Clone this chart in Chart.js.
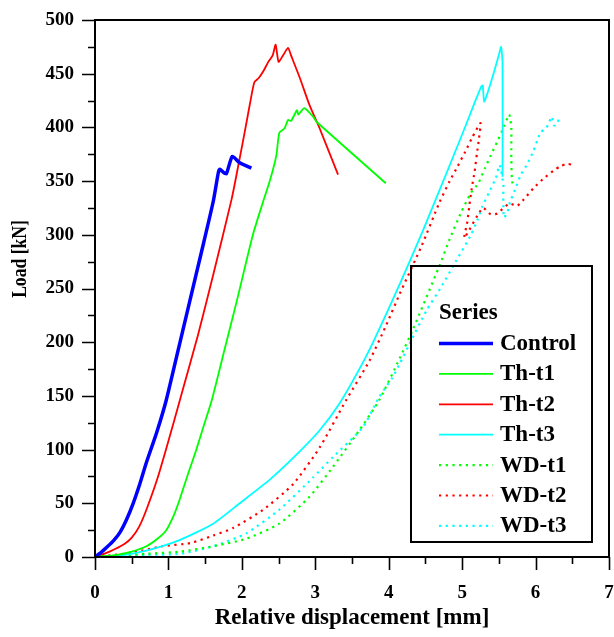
<!DOCTYPE html>
<html>
<head>
<meta charset="utf-8">
<script src="https://cdn.jsdelivr.net/npm/chart.js@4/dist/chart.umd.min.js"></script>
<style>
  html, body { margin: 0; padding: 0; background: #fff; }
  #wrap { width: 614px; height: 637px; }
</style>
</head>
<body>
<div id="wrap"><canvas id="chart" width="614" height="637"></canvas></div>
<script>
// displacement [mm] / load [kN]
var controlX = [0, 0.08, 0.16, 0.25, 0.34, 0.43, 0.52, 0.61, 0.70, 0.84, 0.97, 1.13, 1.29, 1.45, 1.61, 1.68, 1.70, 1.75, 1.79, 1.87, 1.97, 2.13];
var controlY = [0, 4, 9, 15, 23, 35, 50, 68, 88, 116, 146, 192, 238, 284, 331, 358, 361, 358, 357, 373, 367, 362];

var th1X = [0, 0.3, 0.5, 0.7, 0.85, 0.97, 1.08, 1.16, 1.27, 1.38, 1.48, 1.59, 1.76, 1.93, 2.15, 2.29, 2.38, 2.47, 2.51, 2.58, 2.63, 2.67, 2.75, 2.77, 2.85, 2.97, 3.02, 3.96];
var th1Y = [0, 2, 5, 10, 17, 25, 40, 55, 78, 100, 122, 146, 192, 238, 300, 331, 350, 374, 395, 399, 407, 406, 416, 412, 418, 410, 405, 348];

var th2X = [0, 0.2, 0.4, 0.5, 0.6, 0.7, 0.85, 1.0, 1.18, 1.4, 1.6, 1.86, 1.97, 2.04, 2.11, 2.17, 2.23, 2.29, 2.36, 2.42, 2.46, 2.50, 2.56, 2.63, 2.67, 2.79, 2.92, 3.06, 3.31];
var th2Y = [0, 5, 12, 18, 28, 44, 73, 108, 152, 206, 260, 333, 371, 396, 422, 442, 446, 452, 461, 467, 477, 461, 467, 474, 467, 446, 421, 399, 356];

var th3X = [0, 0.3, 0.7, 1.16, 1.61, 1.97, 2.38, 2.74, 3.06, 3.33, 3.56, 3.78, 4.15, 4.46, 4.85, 5.05, 5.17, 5.26, 5.28, 5.30, 5.35, 5.44, 5.51, 5.53, 5.55, 5.55];
var th3Y = [0, 1, 6, 16, 31, 50, 72, 95, 118, 143, 170, 199, 254, 303, 368, 402, 423, 438, 439, 424, 433, 453, 470, 475, 461, 354];

var wd1X = [0, 0.7, 1.16, 1.61, 2.06, 2.51, 2.92, 3.24, 3.6, 3.87, 4.15, 4.33, 4.69, 4.83, 4.98, 5.12, 5.22, 5.31, 5.39, 5.48, 5.57, 5.64, 5.66, 5.67, 5.67, 5.68, 5.71];
var wd1Y = [0, 3, 5, 10, 17, 31, 56, 84, 118, 146, 185, 212, 271, 296, 320, 339, 348, 362, 374, 387, 401, 412, 406, 399, 370, 350, 344];

var wd2X = [0, 0.5, 0.92, 1.3, 1.61, 1.88, 2.29, 2.70, 3.06, 3.42, 3.74, 3.96, 4.15, 4.45, 4.69, 4.83, 4.94, 5.04, 5.14, 5.25, 5.23, 5.20, 5.17, 5.13, 5.10, 5.07, 5.03, 5.28, 5.39, 5.48, 5.64, 5.75, 5.84, 5.98, 6.12, 6.25, 6.34, 6.43, 6.52];
var wd2Y = [0, 4, 10, 13, 20, 27, 44, 68, 102, 146, 183, 215, 245, 290, 330, 350, 364, 377, 391, 404, 390, 375, 359, 343, 328, 312, 297, 325, 319, 320, 329, 327, 333, 344, 353, 360, 364, 366, 365];

var wd3X = [0, 0.7, 1.16, 1.61, 2.06, 2.51, 2.97, 3.24, 3.65, 3.87, 4.05, 4.15, 4.28, 4.51, 4.72, 4.92, 5.12, 5.21, 5.28, 5.37, 5.46, 5.51, 5.56, 5.56, 5.57, 5.62, 5.65, 5.72, 5.80, 5.88, 5.97, 6.04, 6.07, 6.13, 6.18, 6.22, 6.25, 6.28, 6.32];
var wd3Y = [0, 2, 3, 10, 22, 44, 74, 93, 121, 149, 167, 180, 198, 229, 252, 276, 300, 314, 327, 340, 353, 365, 347, 331, 316, 322, 330, 342, 356, 365, 378, 391, 396, 398, 404, 410, 402, 402, 408];

var seriesNames = ['Control', 'Th-t1', 'Th-t2', 'Th-t3', 'WD-t1', 'WD-t2', 'WD-t3'];
var seriesColors = ['#0000ff', '#00ff00', '#ff0000', '#00ffff', '#00ff00', '#ff0000', '#00ffff'];

var yTicks = [0, 50, 100, 150, 200, 250, 300, 350, 400, 450, 500];
var xTicks = [0, 1, 2, 3, 4, 5, 6, 7];

var FONT = '"Liberation Serif", "Times New Roman", serif';

function pts(xs, ys) {
    return xs.map(function (x, i) { return {x: x, y: ys[i]}; });
}

function makeSet(i, xs, ys, dotted) {
    return {
        label: seriesNames[i],
        data: pts(xs, ys),
        borderColor: seriesColors[i],
        borderWidth: i === 0 ? 3.5 : (dotted ? 2.2 : 1.8),
        borderDash: dotted ? [2.2, 4.5] : [],
        pointRadius: 0,
        tension: 0.2,
        fill: false
    };
}

// frame, outward major/minor ticks, rotated y title and the boxed legend
var decorations = {
    id: 'decorations',
    afterDraw: function (chart) {
        var ctx = chart.ctx;
        var a = chart.chartArea;
        var xs = chart.scales.x, ys = chart.scales.y;
        ctx.save();
        ctx.strokeStyle = '#000';
        ctx.lineWidth = 2;
        ctx.strokeRect(a.left, a.top, a.right - a.left, a.bottom - a.top);

        ctx.lineWidth = 1.6;
        ctx.beginPath();
        for (var v = 0; v <= 500; v += 25) {
            var py = Math.round(ys.getPixelForValue(v)) + 0.5;
            var len = v % 50 === 0 ? 13 : 7;
            ctx.moveTo(a.left - len, py);
            ctx.lineTo(a.left, py);
        }
        for (var u = 0; u <= 7; u += 0.5) {
            var px = Math.round(xs.getPixelForValue(u)) + 0.5;
            var l2 = u % 1 === 0 ? 13 : 7;
            ctx.moveTo(px, a.bottom);
            ctx.lineTo(px, a.bottom + l2);
        }
        ctx.stroke();

        // y title (slightly condensed like the source figure)
        ctx.fillStyle = '#000';
        ctx.font = 'bold 20px ' + FONT;
        ctx.textAlign = 'center';
        ctx.textBaseline = 'middle';
        ctx.translate(21, 259);
        ctx.rotate(-Math.PI / 2);
        ctx.scale(0.88, 1);
        ctx.fillText('Load [kN]', 0, 0);
        ctx.restore();

        // legend, box is transparent
        ctx.save();
        ctx.strokeStyle = '#000';
        ctx.lineWidth = 2;
        ctx.strokeRect(411, 266, 181, 276);
        ctx.fillStyle = '#000';
        ctx.font = 'bold 23px ' + FONT;
        ctx.textBaseline = 'middle';
        ctx.textAlign = 'left';
        ctx.fillText('Series', 439, 313);
        chart.data.datasets.forEach(function (ds, i) {
            var y = 343 + i * 30.4;
            ctx.strokeStyle = ds.borderColor;
            ctx.lineWidth = ds.borderWidth;
            ctx.setLineDash(ds.borderDash);
            ctx.beginPath();
            ctx.moveTo(439, y + 0.5);
            ctx.lineTo(493, y + 0.5);
            ctx.stroke();
            ctx.setLineDash([]);
            ctx.fillText(ds.label, 500, y + 1);
        });
        ctx.restore();
    }
};

new Chart(document.getElementById('chart'), {
    type: 'line',
    data: {
        datasets: [
            makeSet(0, controlX, controlY, false),
            makeSet(1, th1X, th1Y, false),
            makeSet(2, th2X, th2Y, false),
            makeSet(3, th3X, th3Y, false),
            makeSet(4, wd1X, wd1Y, true),
            makeSet(5, wd2X, wd2Y, true),
            makeSet(6, wd3X, wd3Y, true)
        ]
    },
    plugins: [decorations],
    options: {
        responsive: false,
        animation: false,
        layout: {padding: {top: 20, right: 5, left: 0, bottom: 0}},
        plugins: {legend: {display: false}, tooltip: {enabled: false}},
        scales: {
            x: {
                type: 'linear',
                min: 0,
                max: 7,
                afterFit: function (s) {
                    s.height = 80;
                    s.paddingLeft = 0;
                    s.paddingRight = 0;
                },
                afterBuildTicks: function (s) { s.ticks = xTicks.map(function (v) { return {value: v}; }); },
                grid: {drawOnChartArea: false, drawTicks: false},
                border: {display: false},
                ticks: {
                    color: '#000',
                    padding: 25,
                    maxRotation: 0,
                    font: {family: FONT, size: 19, weight: 'bold'}
                },
                title: {
                    display: true,
                    text: 'Relative displacement [mm]',
                    color: '#000',
                    padding: {top: 0, bottom: 5},
                    font: {family: FONT, size: 23, weight: 'bold'}
                }
            },
            y: {
                min: 0,
                max: 500,
                afterFit: function (s) {
                    s.width = 95;
                    s.paddingTop = 0;
                    s.paddingBottom = 0;
                },
                afterBuildTicks: function (s) { s.ticks = yTicks.map(function (v) { return {value: v}; }); },
                grid: {drawOnChartArea: false, drawTicks: false},
                border: {display: false},
                ticks: {
                    color: '#000',
                    padding: 21,
                    font: {family: FONT, size: 19, weight: 'bold'}
                }
            }
        }
    }
});
</script>
</body>
</html>
